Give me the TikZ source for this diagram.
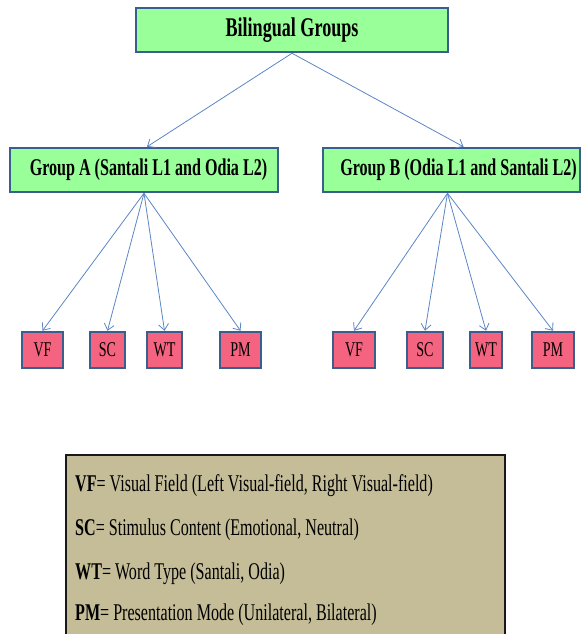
\documentclass[tikz,border=0pt]{standalone}
\usepackage{fontspec}
\setmainfont{Liberation Serif}[FakeStretch=0.67]
\usetikzlibrary{arrows.meta}
\definecolor{boxgreen}{HTML}{99FF99}
\definecolor{boxpink}{HTML}{F4637F}
\definecolor{boxedge}{HTML}{3A5F8F}
\definecolor{arrowblue}{HTML}{5B86C5}
\definecolor{legendfill}{HTML}{C4BD97}
\tikzset{
  x=1pt, y=-1pt,
  greenbox/.style={draw=boxedge, line width=2.5pt, fill=boxgreen, inner sep=0pt, font=\fontsize{24}{26}\selectfont\bfseries},
  pinkbox/.style={draw=boxedge, line width=2.5pt, fill=boxpink, inner sep=0pt, minimum height=36pt, font=\fontsize{21}{23}\selectfont},
  link/.style={draw=arrowblue, line width=0.8pt, -{Straight Barb[length=6pt,width=10pt]}},
  legendtext/.style={anchor=base west, inner sep=0pt, font=\fontsize{24}{26}\selectfont}
}
\begin{document}
\begin{tikzpicture}
\useasboundingbox (0,0) rectangle (586,634);
% top
\node[greenbox, minimum width=312pt, minimum height=44pt, font=\fontsize{27}{29}\selectfont\bfseries] (top) at (292,30) {Bilingual Groups};
% groups
\node[greenbox, minimum width=268pt, minimum height=44pt] (gA) at (144,170) {\hspace*{9pt}Group A (Santali L1 and Odia L2)};
\node[greenbox, minimum width=257pt, minimum height=44pt] (gB) at (451.5,170) {\hspace*{14pt}Group B (Odia L1 and Santali L2)};
% small boxes A
\node[pinkbox, minimum width=41pt] (avf) at (42.5,350) {VF};
\node[pinkbox, minimum width=35pt] (asc) at (107.5,350) {SC};
\node[pinkbox, minimum width=35pt] (awt) at (164.5,350) {WT};
\node[pinkbox, minimum width=41pt] (apm) at (240.5,350) {PM};
% small boxes B
\node[pinkbox, minimum width=42pt] (bvf) at (354,350) {VF};
\node[pinkbox, minimum width=36pt] (bsc) at (425,350) {SC};
\node[pinkbox, minimum width=32pt] (bwt) at (486,350) {WT};
\node[pinkbox, minimum width=42pt] (bpm) at (553,350) {PM};
% connectors
\draw[link] (top.south) -- ([xshift=3pt]gA.north);
\draw[link] (top.south) -- ([xshift=12pt]gB.north);
\foreach \t in {avf,asc,awt,apm} \draw[link] (gA.south) -- (\t.north);
\foreach \t in {bvf,bsc,bwt,bpm} \draw[link] ([xshift=-4pt]gB.south) -- (\t.north);
% legend
\fill[legendfill] (66,455) rectangle (505,634);
\draw[line width=2.5pt, draw=black!90] (66,640) -- (66,455) -- (505,455) -- (505,640);
\node[legendtext] (l1) at (75,491) {\textbf{VF}= Visual Field (Left Visual-field, Right Visual-field)};
\node[legendtext] (l2) at (75,535) {\textbf{SC}= Stimulus Content (Emotional, Neutral)};
\node[legendtext] (l3) at (75,579) {\textbf{WT}= Word Type (Santali, Odia)};
\node[legendtext] (l4) at (75,620) {\textbf{PM}= Presentation Mode (Unilateral, Bilateral)};
\end{tikzpicture}
\end{document}
